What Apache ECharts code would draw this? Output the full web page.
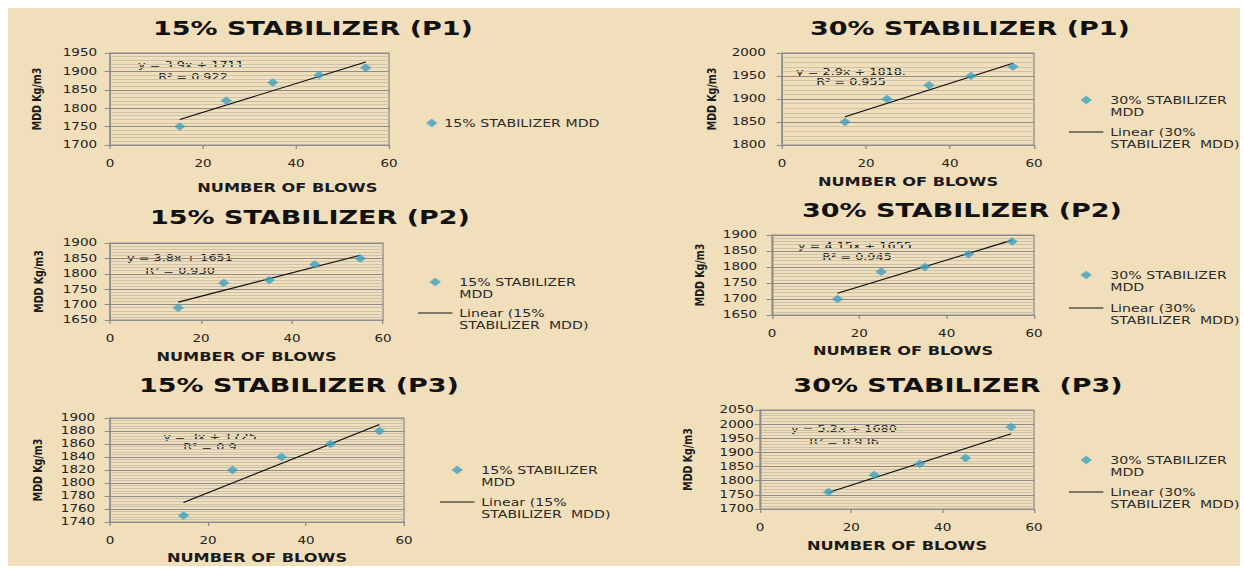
<!DOCTYPE html>
<html><head><meta charset="utf-8">
<script src="https://cdn.jsdelivr.net/npm/echarts@6/dist/echarts.min.js"></script>
<style>
html,body{margin:0;padding:0;background:#fff;width:1244px;height:569px;overflow:hidden}
#bg{position:absolute;left:8px;top:8px;width:1232px;height:558px;background:#f1dfbc}
#chart{position:absolute;left:0;top:0;width:921.48px;height:569px;transform:scaleX(1.35);transform-origin:0 0}
</style></head><body><div id="bg"></div><div id="chart"></div>
<script>
// ---------- data ----------
const blows = [15, 25, 35, 45, 55];
const mdd15P1 = [1750, 1820, 1870, 1890, 1910];
const mdd30P1 = [1850, 1900, 1930, 1950, 1970];
const mdd15P2 = [1690, 1770, 1780, 1830, 1850];
const mdd30P2 = [1700, 1785, 1800, 1840, 1880];
const mdd15P3 = [1750, 1820, 1840, 1860, 1880];
const mdd30P3 = [1760, 1820, 1860, 1880, 1990];
// linear trend line end values at x = 15 and x = 55
const trendX = [15, 55];
const trend15P1 = [1769.5, 1925.5];
const trend30P1 = [1861.5, 1977.5];
const trend15P2 = [1708, 1860];
const trend30P2 = [1718, 1884];
const trend15P3 = [1770, 1890];
const trend30P3 = [1758, 1966];
const titles = ['15% STABILIZER (P1)', '30% STABILIZER (P1)', '15% STABILIZER (P2)', '30% STABILIZER (P2)', '15% STABILIZER (P3)', '30% STABILIZER  (P3)'];
const equations = [
  ['y = 3.9x + 1711.', 'R² = 0.922'],
  ['y = 2.9x + 1818.', 'R² = 0.955'],
  ['y = 3.8x + 1651', 'R² = 0.930'],
  ['y = 4.15x + 1655.', 'R² = 0.945'],
  ['y = 3x + 1725', 'R² = 0.9'],
  ['y = 5.2x + 1680', 'R² = 0.936']
];
const yMin = [1700, 1800, 1650, 1650, 1740, 1700];
const yMax = [1950, 2000, 1900, 1900, 1900, 2050];
const yStep = [50, 50, 50, 50, 20, 50];
const xMin = 0, xMax = 60, xStep = 20;
const scatterNames = ['15% STABILIZER MDD', '30% STABILIZER MDD', '15% STABILIZER MDD', '30% STABILIZER MDD', '15% STABILIZER MDD', '30% STABILIZER MDD'];
const linearNames = ['Linear (15% STABILIZER MDD)', 'Linear (30% STABILIZER MDD)', 'Linear (15% STABILIZER MDD)', 'Linear (30% STABILIZER MDD)', 'Linear (15% STABILIZER MDD)', 'Linear (30% STABILIZER MDD)'];
const xTitle = 'NUMBER OF BLOWS';
const yTitle = 'MDD Kg/m3';

const mddSets = [mdd15P1, mdd30P1, mdd15P2, mdd30P2, mdd15P3, mdd30P3];
const trendSets = [trend15P1, trend30P1, trend15P2, trend30P2, trend15P3, trend30P3];

// ---------- layout (reference pixel coords; x is divided by the stretch) ----------
const S = 1.35;
const X = v => v / S;
const FONT = '"DejaVu Sans", sans-serif';
const DIAMOND = 'path://M5,0L10,5L5,10L0,5Z';
const layout = [
  {g: [110, 53, 279, 92],  t: [313, 28],  eq: [193, 65, 77],  ym: 9.6, yng: 49, xng: 37, xpad: 56, lg: {left: 426, ys: [123], showLin: false}},
  {g: [782, 53, 252, 92],  t: [970, 28],  eq: [851, 72, 82],  ym: 11.9, yng: 47, xng: 31, xpad: 0, lg: {left: 1069, ys: [100, 132], showLin: true}},
  {g: [110, 243, 273, 77], t: [310, 217], eq: [180, 258, 271], ym: 9.6, yng: 47.5, xng: 31, xpad: 0, lg: {left: 418, ys: [282, 313], showLin: true}},
  {g: [772, 235, 262, 80], t: [962, 210], eq: [857, 246, 257], ym: 11, yng: 48.5, xng: 30, xpad: 0, lg: {left: 1069, ys: [275, 308], showLin: true}},
  {g: [110, 418, 294, 104], t: [299, 385], eq: [210, 437, 447], ym: 11, yng: 48.5, xng: 30, xpad: 0, lg: {left: 440, ys: [470, 502], showLin: true}},
  {g: [760, 410, 274, 99], t: [958, 385], eq: [844, 429, 442], ym: 4.5, yng: 48, xng: 31, xpad: 0, lg: {left: 1069, ys: [460, 492], showLin: true}}
];

const AX = '#8c8c8c';
const grid = [], xAxis = [], yAxis = [], series = [], title = [], legend = [], graphic = [];
const plain = v => String(v);
const LW = 25.5, LH = 8.5;

layout.forEach((l, i) => {
  grid.push({left: X(l.g[0]), top: l.g[1], width: X(l.g[2]), height: l.g[3], show: true,
    borderColor: AX, borderWidth: 1, backgroundColor: 'transparent', containLabel: false, outerBoundsMode: 'none'});
  xAxis.push({type: 'value', gridIndex: i, min: xMin, max: xMax, interval: xStep,
    axisLine: {show: true, onZero: false, lineStyle: {color: AX}},
    axisTick: {show: true, length: 4, lineStyle: {color: AX}},
    axisLabel: {margin: 14, fontSize: 10, color: '#222', fontFamily: FONT, formatter: plain},
    splitLine: {show: false},
    name: xTitle, nameLocation: 'middle', nameGap: l.xng,
    nameTextStyle: {fontFamily: FONT, fontWeight: 'bold', fontSize: 12, color: '#1a1a1a', padding: [0, 0, 0, l.xpad]}});
  yAxis.push({type: 'value', gridIndex: i, min: yMin[i], max: yMax[i], interval: yStep[i],
    axisLine: {show: true, lineStyle: {color: AX}},
    axisTick: {show: true, length: 4, lineStyle: {color: AX}},
    axisLabel: {margin: l.ym, fontSize: 10, color: '#222', fontFamily: FONT, formatter: plain},
    splitLine: {show: true, lineStyle: {color: AX, width: 1}},
    minorTick: {show: false, splitNumber: 5},
    minorSplitLine: {show: true, lineStyle: {color: '#cbc2ae', width: 1}},
    name: yTitle, nameLocation: 'middle', nameGap: l.yng,
    nameTextStyle: {fontFamily: FONT, fontWeight: 'bold', fontSize: 9.5, color: '#1a1a1a'}});
  series.push({type: 'line', name: linearNames[i], xAxisIndex: i, yAxisIndex: i,
    data: trendX.map((x, k) => [x, trendSets[i][k]]), symbol: 'none',
    lineStyle: {color: '#111', width: 1.1}, itemStyle: {color: '#111'}, silent: true, z: 3});
  series.push({type: 'scatter', name: scatterNames[i], xAxisIndex: i, yAxisIndex: i,
    data: blows.map((x, k) => [x, mddSets[i][k]]), symbol: 'diamond', symbolSize: 8.5,
    itemStyle: {color: '#3fa1c0'}, silent: true, z: 4});
  title.push({text: titles[i], left: X(l.t[0]), top: l.t[1] - 10, textAlign: 'center', padding: 0,
    textStyle: {fontFamily: FONT, fontWeight: 'bold', fontSize: 20, color: '#111'}});
  equations[i].forEach((txt, k) => {
    graphic.push({type: 'text', x: X(l.eq[0]), y: l.eq[k + 1], silent: true,
      style: {text: txt, fontSize: 9.5, fontFamily: FONT, fill: '#111', textAlign: 'center', textVerticalAlign: 'middle', align: 'center', verticalAlign: 'middle'}});
  });
  const two = l.lg.showLin;
  const textStyle = {fontFamily: FONT, fontSize: 10.5, color: '#2a2a2a', lineHeight: 12};
  if (!two) {
    legend.push({data: [{name: scatterNames[i], icon: DIAMOND}], left: X(l.lg.left), top: l.lg.ys[0] - 6,
      padding: 0, itemWidth: LH, itemHeight: LH, symbolKeepAspect: true, selectedMode: false, textStyle});
  } else {
    // the kept-aspect diamond sits centred in the icon box, so the box starts (LW-LH)/2 before it
    legend.push({data: [{name: scatterNames[i], icon: DIAMOND}], left: X(l.lg.left) + (LW - LH) / 2, top: l.lg.ys[0] - 18,
      padding: 0, itemWidth: LW, itemHeight: LH, symbolKeepAspect: true, selectedMode: false, textStyle,
      formatter: n => '\n' + n.replace(' MDD', '\nMDD')});
    legend.push({data: [{name: linearNames[i], icon: 'rect'}], left: X(l.lg.left), top: l.lg.ys[1] - 18,
      padding: 0, itemWidth: LW, itemHeight: 1.2, selectedMode: false, textStyle,
      itemStyle: {color: '#111'},
      formatter: n => '\n' + n.replace(/^(Linear \(\d+%) /, '$1\n').replace(' MDD', '  MDD')});
  }
});

const chart = echarts.init(document.getElementById('chart'), null, {renderer: 'svg'});
chart.setOption({animation: false, backgroundColor: 'transparent', grid, xAxis, yAxis, series, title, legend, graphic});
</script></body></html>
